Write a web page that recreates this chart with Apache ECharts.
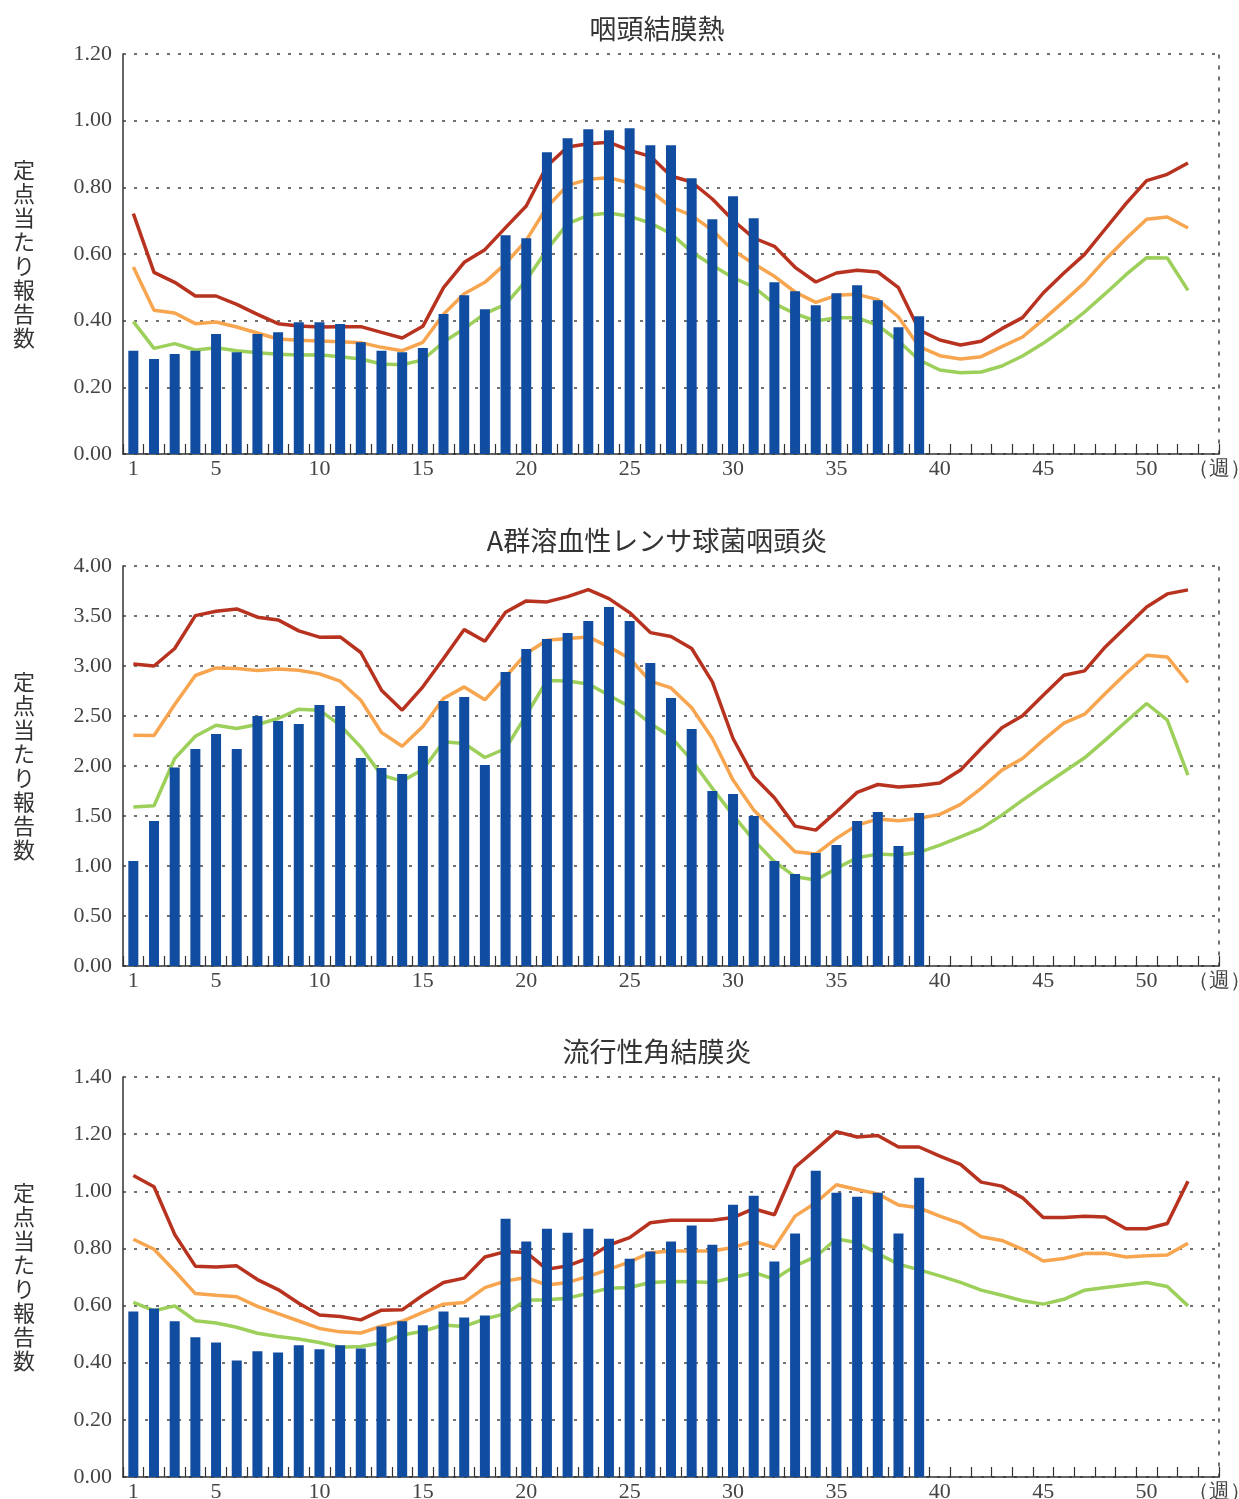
<!DOCTYPE html>
<html>
<head>
<meta charset="utf-8">
<script src="https://cdn.jsdelivr.net/npm/echarts@6/dist/echarts.min.js"></script>
<style>
  html, body { margin: 0; padding: 0; background: #fff; }
  #main { width: 1239px; height: 1499px; }
</style>
</head>
<body>
<div id="main"></div>
<script>
// 週 (1〜52 + 右端の空き1枠)
const weeks = []
for (let i = 1; i <= 53; i++) weeks.push(String(i))

const titles = ['咽頭結膜熱', 'A群溶血性レンサ球菌咽頭炎', '流行性角結膜炎']
const yName = '定点当たり報告数'
const yMax = [1.2, 4.0, 1.4]
const yStep = [0.2, 0.5, 0.2]

// 咽頭結膜熱
const pcfBars = [0.31, 0.285, 0.30, 0.31, 0.36, 0.305, 0.36, 0.365, 0.395, 0.395,
  0.39, 0.335, 0.31, 0.305, 0.318, 0.42, 0.476, 0.434, 0.656, 0.647,
  0.905, 0.947, 0.974, 0.971, 0.977, 0.926, 0.926, 0.827, 0.704, 0.773,
  0.707, 0.515, 0.488, 0.446, 0.482, 0.506, 0.461, 0.38, 0.413]
const pcfRed = [0.721, 0.545, 0.515, 0.474, 0.474, 0.449, 0.419, 0.391, 0.384, 0.381,
  0.382, 0.382, 0.365, 0.348, 0.383, 0.499, 0.575, 0.613, 0.679, 0.744,
  0.864, 0.921, 0.931, 0.935, 0.911, 0.893, 0.834, 0.816, 0.765, 0.701,
  0.648, 0.623, 0.56, 0.516, 0.543, 0.551, 0.546, 0.499, 0.372, 0.342,
  0.327, 0.338, 0.376, 0.409, 0.483, 0.543, 0.599, 0.675, 0.751, 0.82,
  0.839, 0.873]
const pcfOrange = [0.561, 0.431, 0.423, 0.391, 0.396, 0.381, 0.363, 0.345, 0.341, 0.339,
  0.337, 0.334, 0.32, 0.31, 0.335, 0.419, 0.481, 0.515, 0.571, 0.641,
  0.741, 0.806, 0.824, 0.829, 0.813, 0.789, 0.741, 0.716, 0.671, 0.611,
  0.571, 0.533, 0.486, 0.455, 0.476, 0.479, 0.463, 0.411, 0.322, 0.295,
  0.285, 0.292, 0.322, 0.351, 0.403, 0.458, 0.514, 0.583, 0.646, 0.704,
  0.711, 0.678]
const pcfGreen = [0.397, 0.317, 0.331, 0.312, 0.319, 0.31, 0.304, 0.299, 0.297, 0.298,
  0.292, 0.285, 0.27, 0.268, 0.282, 0.336, 0.376, 0.421, 0.449, 0.521,
  0.613, 0.691, 0.716, 0.723, 0.713, 0.693, 0.661, 0.606, 0.566, 0.529,
  0.501, 0.451, 0.421, 0.399, 0.409, 0.409, 0.386, 0.339, 0.282, 0.252,
  0.244, 0.246, 0.264, 0.294, 0.332, 0.376, 0.426, 0.481, 0.538, 0.589,
  0.588, 0.491]

// A群溶血性レンサ球菌咽頭炎
const gasBars = [1.05, 1.45, 1.985, 2.17, 2.32, 2.17, 2.50, 2.45, 2.42, 2.61,
  2.60, 2.08, 1.98, 1.92, 2.20, 2.65, 2.69, 2.01, 2.94, 3.17,
  3.27, 3.33, 3.45, 3.59, 3.45, 3.03, 2.68, 2.37, 1.75, 1.72,
  1.50, 1.05, 0.92, 1.13, 1.21, 1.45, 1.54, 1.20, 1.53]
const gasRed = [3.02, 3.0, 3.175, 3.504, 3.548, 3.571, 3.488, 3.461, 3.351, 3.288,
  3.291, 3.135, 2.758, 2.558, 2.792, 3.075, 3.364, 3.248, 3.538, 3.651,
  3.641, 3.694, 3.764, 3.674, 3.534, 3.334, 3.295, 3.175, 2.841, 2.275,
  1.892, 1.682, 1.399, 1.359, 1.542, 1.736, 1.815, 1.789, 1.805, 1.829,
  1.959, 2.175, 2.382, 2.502, 2.708, 2.908, 2.951, 3.191, 3.391, 3.591,
  3.721, 3.761]
const gasOrange = [2.308, 2.305, 2.615, 2.905, 2.981, 2.975, 2.955, 2.971, 2.958, 2.921,
  2.848, 2.658, 2.335, 2.198, 2.395, 2.675, 2.791, 2.662, 2.891, 3.125,
  3.258, 3.275, 3.291, 3.191, 3.075, 2.848, 2.781, 2.582, 2.275, 1.859,
  1.559, 1.349, 1.143, 1.119, 1.276, 1.409, 1.469, 1.452, 1.476, 1.516,
  1.616, 1.776, 1.959, 2.075, 2.259, 2.428, 2.518, 2.725, 2.925, 3.108,
  3.091, 2.835]
const gasGreen = [1.589, 1.602, 2.075, 2.298, 2.408, 2.375, 2.415, 2.475, 2.568, 2.558,
  2.408, 2.189, 1.909, 1.849, 1.965, 2.242, 2.225, 2.085, 2.175, 2.508,
  2.855, 2.851, 2.821, 2.708, 2.592, 2.425, 2.292, 2.059, 1.776, 1.509,
  1.259, 1.043, 0.893, 0.859, 0.976, 1.083, 1.119, 1.109, 1.136, 1.209,
  1.292, 1.376, 1.509, 1.659, 1.802, 1.942, 2.082, 2.259, 2.442, 2.625,
  2.458, 1.909]

// 流行性角結膜炎
const ekcBars = [0.579, 0.59, 0.545, 0.489, 0.471, 0.408, 0.44, 0.436, 0.461, 0.447,
  0.461, 0.45, 0.527, 0.545, 0.531, 0.579, 0.558, 0.565, 0.904, 0.824,
  0.869, 0.855, 0.869, 0.834, 0.764, 0.789, 0.824, 0.88, 0.813, 0.953,
  0.984, 0.754, 0.852, 1.072, 0.995, 0.981, 0.995, 0.852, 1.047]
const ekcRed = [1.055, 1.016, 0.849, 0.738, 0.735, 0.739, 0.691, 0.656, 0.608, 0.567,
  0.562, 0.55, 0.584, 0.585, 0.636, 0.681, 0.696, 0.77, 0.789, 0.786,
  0.727, 0.739, 0.766, 0.812, 0.838, 0.89, 0.899, 0.899, 0.899, 0.908,
  0.939, 0.918, 1.084, 1.146, 1.209, 1.19, 1.195, 1.155, 1.155, 1.123,
  1.094, 1.032, 1.018, 0.977, 0.908, 0.908, 0.913, 0.91, 0.869, 0.869,
  0.887, 1.035]
const ekcOrange = [0.832, 0.797, 0.721, 0.642, 0.636, 0.631, 0.597, 0.572, 0.546, 0.52,
  0.508, 0.504, 0.528, 0.545, 0.576, 0.605, 0.611, 0.663, 0.686, 0.698,
  0.672, 0.681, 0.702, 0.727, 0.753, 0.785, 0.791, 0.791, 0.791, 0.803,
  0.826, 0.803, 0.913, 0.96, 1.023, 1.006, 0.991, 0.952, 0.942, 0.913,
  0.888, 0.841, 0.828, 0.797, 0.756, 0.765, 0.782, 0.783, 0.77, 0.774,
  0.777, 0.818]
const ekcGreen = [0.611, 0.582, 0.599, 0.547, 0.539, 0.524, 0.503, 0.492, 0.483, 0.471,
  0.454, 0.457, 0.469, 0.497, 0.51, 0.532, 0.527, 0.553, 0.572, 0.619,
  0.62, 0.626, 0.643, 0.661, 0.663, 0.681, 0.684, 0.683, 0.681, 0.698,
  0.716, 0.692, 0.739, 0.771, 0.834, 0.82, 0.782, 0.745, 0.725, 0.704,
  0.681, 0.654, 0.636, 0.617, 0.605, 0.622, 0.654, 0.663, 0.672, 0.681,
  0.667, 0.599]

const panels = [
  { bars: pcfBars, red: pcfRed, orange: pcfOrange, green: pcfGreen },
  { bars: gasBars, red: gasRed, orange: gasOrange, green: gasGreen },
  { bars: ekcBars, red: ekcRed, orange: ekcOrange, green: ekcGreen }
]

const tops = [54, 566, 1077]
const plotH = 400
const labelFont = '"Liberation Serif", "DejaVu Serif", serif'
const jpFont = '"Noto Sans CJK JP", "Noto Sans", sans-serif'
const dots = [3, 8]

const grid = []
const xAxis = []
const yAxis = []
const series = []
const title = []
const graphic = []

panels.forEach(function (p, i) {
  grid.push({ left: 123, width: 1096, top: tops[i], height: plotH, containLabel: false, outerBoundsMode: 'none' })

  title.push({
    text: titles[i],
    left: 652,
    top: tops[i] - 44,
    textAlign: 'center',
    textStyle: { fontFamily: jpFont, fontSize: 27, fontWeight: 'normal', color: '#333' }
  })

  graphic.push({
    type: 'text',
    x: 24,
    y: tops[i] + plotH / 2,
    style: {
      text: yName.split('').join('\n'),
      font: '22px ' + jpFont,
      lineHeight: 24,
      fill: '#333',
      textAlign: 'center',
      textVerticalAlign: 'middle'
    }
  })

  xAxis.push({
    type: 'category',
    gridIndex: i,
    data: weeks,
    boundaryGap: true,
    name: '（週）',
    nameLocation: 'end',
    nameGap: 0,
    nameTextStyle: {
      fontFamily: labelFont, fontSize: 21, color: '#444',
      align: 'center', verticalAlign: 'top', padding: [5, 0, 0, 0]
    },
    axisLine: { lineStyle: { color: '#333', width: 1.5 } },
    axisTick: { show: true, inside: true, length: 10, interval: 0, lineStyle: { color: '#333', width: 1.2 } },
    axisLabel: {
      interval: function (idx) { return idx === 0 || ((idx + 1) % 5 === 0 && idx < 52) },
      fontFamily: labelFont, fontSize: 22, color: '#444', margin: 4
    },
    splitLine: { show: false }
  })

  yAxis.push({
    type: 'value',
    gridIndex: i,
    min: 0,
    max: yMax[i],
    interval: yStep[i],
    axisLine: { show: true, lineStyle: { color: '#333', width: 1.5 } },
    axisTick: { show: false },
    axisLabel: {
      formatter: function (v) { return v.toFixed(2) },
      fontFamily: labelFont, fontSize: 22, color: '#444', margin: 11
    },
    splitLine: { show: true, lineStyle: { color: '#444', width: 1.5, type: dots } }
  })
  // 右側の点線枠
  yAxis.push({
    type: 'value',
    gridIndex: i,
    position: 'right',
    min: 0,
    max: yMax[i],
    interval: yStep[i],
    axisLine: { show: true, lineStyle: { color: '#444', width: 1.5, type: dots } },
    axisTick: { show: false },
    axisLabel: { show: false },
    splitLine: { show: false }
  })

  const yIdx = i * 2
  const lines = [[p.green, '#9dcf5b'], [p.orange, '#f7a54f'], [p.red, '#b7321f']]
  lines.forEach(function (l) {
    series.push({
      type: 'line',
      xAxisIndex: i,
      yAxisIndex: yIdx,
      data: l[0],
      showSymbol: false,
      symbol: 'none',
      smooth: false,
      lineStyle: { color: l[1], width: 3.5 },
      z: 2,
      silent: true
    })
  })
  series.push({
    type: 'bar',
    xAxisIndex: i,
    yAxisIndex: yIdx,
    data: p.bars,
    barWidth: 10,
    itemStyle: { color: '#104c9f' },
    z: 3,
    silent: true
  })
})

const myChart = echarts.init(document.getElementById('main'), null, { renderer: 'canvas' })
myChart.setOption({
  animation: false,
  backgroundColor: '#fff',
  title: title,
  grid: grid,
  xAxis: xAxis,
  yAxis: yAxis,
  series: series,
  graphic: graphic
})
</script>
</body>
</html>
